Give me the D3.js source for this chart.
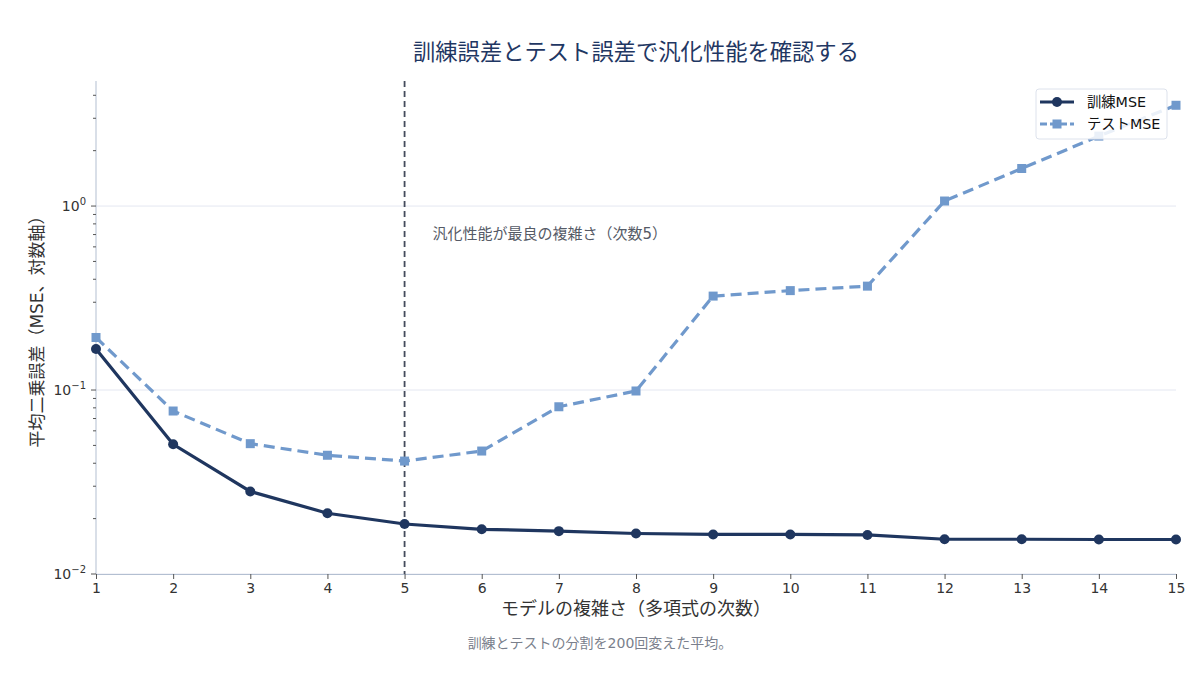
<!DOCTYPE html>
<html>
<head>
<meta charset="utf-8">
<script src="https://cdn.jsdelivr.net/npm/d3@7"></script>
<style>
  body { margin: 0; background: #fff; }
  text { font-family: "DejaVu Sans", "Noto Sans CJK JP", sans-serif; }
</style>
</head>
<body>
<script>
// data
var degrees = [1, 2, 3, 4, 5, 6, 7, 8, 9, 10, 11, 12, 13, 14, 15];
var trainMSE = [0.167, 0.0507, 0.0281, 0.0214, 0.0187, 0.0175, 0.0171, 0.0166, 0.0164, 0.0164, 0.0163, 0.01545, 0.01545, 0.0154, 0.0154];
var testMSE = [0.193, 0.0769, 0.0511, 0.0442, 0.0411, 0.0466, 0.0811, 0.0988, 0.324, 0.347, 0.367, 1.065, 1.60, 2.40, 3.53];
var bestDegree = 5;
var majorTicks = [0.01, 0.1, 1];
var majorExp = ["\u22122", "\u22121", "0"];

var w = 1200, h = 675;
var margin = {top: 81, right: 24, bottom: 101, left: 96};
var iw = w - margin.left - margin.right,
    ih = h - margin.top - margin.bottom;

var navy = "#1f365f", lightBlue = "#7099cc", axisCol = "#b3bfd1";

var svg = d3.select("body").append("svg")
    .attr("width", w)
    .attr("height", h);

var g = svg.append("g")
    .attr("transform", "translate(" + margin.left + "," + margin.top + ")");

//scales
var x = d3.scaleLinear().domain([1, 15]).range([0, iw]);
var yMax = d3.max(testMSE) * 1.355;
var y = d3.scaleLog().domain([0.01, yMax]).range([ih, 0]);

//horizontal gridlines at decades
g.selectAll(".grid")
    .data(majorTicks)
    .enter()
    .append("line")
    .attr("x1", 0).attr("x2", iw)
    .attr("y1", function(d){ return y(d); })
    .attr("y2", function(d){ return y(d); })
    .style("stroke", "#e4e7f1")
    .style("stroke-width", 1);

//minor ticks on y
var minor = [];
[0.01, 0.1, 1].forEach(function(base){
    for (var k = 2; k <= 9; k++) {
        if (base * k <= yMax) minor.push(base * k);
    }
});

var yAxis = g.append("g").attr("class", "y axis");
yAxis.append("line")
    .attr("x1", 0).attr("x2", 0).attr("y1", 0).attr("y2", ih)
    .style("stroke", axisCol);
yAxis.selectAll(".minor")
    .data(minor)
    .enter()
    .append("line")
    .attr("x1", -3).attr("x2", 0)
    .attr("y1", function(d){ return y(d); })
    .attr("y2", function(d){ return y(d); })
    .style("stroke", "#555");
yAxis.selectAll(".major")
    .data(majorTicks)
    .enter()
    .append("line")
    .attr("x1", -5).attr("x2", 0)
    .attr("y1", function(d){ return y(d); })
    .attr("y2", function(d){ return y(d); })
    .style("stroke", "#555");
var yLabels = yAxis.selectAll(".ylab")
    .data(majorTicks)
    .enter()
    .append("text")
    .attr("x", -10)
    .attr("y", function(d){ return y(d) + 5; })
    .attr("text-anchor", "end")
    .style("font-size", "14px")
    .style("fill", "#333");
yLabels.append("tspan").text("10");
yLabels.append("tspan")
    .attr("dy", -6)
    .style("font-size", "10px")
    .text(function(d, i){ return majorExp[i]; });

//x axis
var xAxis = d3.axisBottom(x)
    .tickValues(degrees)
    .tickFormat(d3.format("d"))
    .tickSize(5)
    .tickPadding(4);
var xg = g.append("g")
    .attr("transform", "translate(0," + ih + ")")
    .call(xAxis);
xg.select(".domain").style("stroke", axisCol);
xg.selectAll(".tick line").style("stroke", "#555");
xg.selectAll(".tick text")
    .style("font-size", "14px")
    .style("fill", "#333")
    .style("font-family", "'DejaVu Sans', sans-serif");

//best degree marker line
g.append("line")
    .attr("x1", x(bestDegree)).attr("x2", x(bestDegree))
    .attr("y1", 0).attr("y2", ih)
    .style("stroke", "#444b5c")
    .style("stroke-width", 1.8)
    .style("stroke-dasharray", "6,4");

g.append("text")
    .attr("x", x(bestDegree) + 28)
    .attr("y", y(0.7) + 4)
    .style("font-size", "15px")
    .style("fill", "#555a66")
    .text("汎化性能が最良の複雑さ（次数" + bestDegree + "）");

//lines
var line = d3.line()
    .x(function(d, i){ return x(degrees[i]); })
    .y(function(d){ return y(d); });

g.append("path")
    .datum(testMSE)
    .attr("d", line)
    .style("fill", "none")
    .style("stroke", lightBlue)
    .style("stroke-width", 3.2)
    .style("stroke-dasharray", "11,6");

g.selectAll(".testPt")
    .data(testMSE)
    .enter()
    .append("rect")
    .attr("x", function(d, i){ return x(degrees[i]) - 4.5; })
    .attr("y", function(d){ return y(d) - 4.5; })
    .attr("width", 9).attr("height", 9)
    .style("fill", lightBlue);

g.append("path")
    .datum(trainMSE)
    .attr("d", line)
    .style("fill", "none")
    .style("stroke", navy)
    .style("stroke-width", 3.2);

g.selectAll(".trainPt")
    .data(trainMSE)
    .enter()
    .append("circle")
    .attr("cx", function(d, i){ return x(degrees[i]); })
    .attr("cy", function(d){ return y(d); })
    .attr("r", 5)
    .style("fill", navy);

//legend
var legend = svg.append("g").attr("transform", "translate(1036,89)");
legend.append("rect")
    .attr("width", 131).attr("height", 50)
    .attr("rx", 3)
    .style("fill", "rgba(255,255,255,0.85)")
    .style("stroke", "#dde2ec");
var legendItems = [
    {name: "訓練MSE", color: navy, dash: null, marker: "circle"},
    {name: "テストMSE", color: lightBlue, dash: "7,3", marker: "square"}
];
legendItems.forEach(function(item, i){
    var ly = 13 + i * 22;
    legend.append("line")
        .attr("x1", 4).attr("x2", 38)
        .attr("y1", ly).attr("y2", ly)
        .style("stroke", item.color)
        .style("stroke-width", 3.2)
        .style("stroke-dasharray", item.dash);
    if (item.marker === "circle") {
        legend.append("circle").attr("cx", 21).attr("cy", ly).attr("r", 5).style("fill", item.color);
    } else {
        legend.append("rect").attr("x", 16.5).attr("y", ly - 4.5).attr("width", 9).attr("height", 9).style("fill", item.color);
    }
    legend.append("text")
        .attr("x", 51).attr("y", ly + 5)
        .style("font-size", "14.3px")
        .style("fill", "#111")
        .text(item.name);
});

//titles
svg.append("text")
    .attr("x", margin.left + iw / 2)
    .attr("y", 60)
    .attr("text-anchor", "middle")
    .style("font-size", "22.3px")
    .style("fill", "#1f3763")
    .text("訓練誤差とテスト誤差で汎化性能を確認する");

svg.append("text")
    .attr("x", margin.left + iw / 2)
    .attr("y", 615)
    .attr("text-anchor", "middle")
    .style("font-size", "18px")
    .style("fill", "#333")
    .text("モデルの複雑さ（多項式の次数）");

svg.append("text")
    .attr("transform", "translate(43," + (margin.top + ih / 2) + ") rotate(-90)")
    .attr("text-anchor", "middle")
    .style("font-size", "17px")
    .style("fill", "#333")
    .text("平均二乗誤差（MSE、対数軸）");

svg.append("text")
    .attr("x", w / 2)
    .attr("y", 648)
    .attr("text-anchor", "middle")
    .style("font-size", "14px")
    .style("fill", "#7a7f8c")
    .text("訓練とテストの分割を200回変えた平均。");
</script>
</body>
</html>
